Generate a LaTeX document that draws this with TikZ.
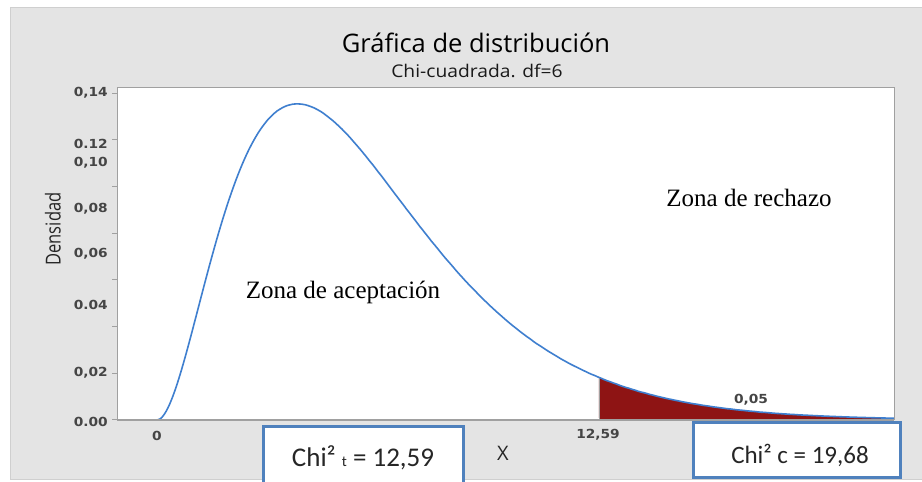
\documentclass[tikz,border=0pt]{standalone}
\usepackage{fontspec}
\usepackage{graphicx}
\setmainfont{Liberation Serif}
\newfontfamily\osans{Open Sans}
\newfontfamily\dvs{DejaVu Sans}
\newfontfamily\carl{Carlito}
\definecolor{bgGray}{HTML}{E4E4E4}
\definecolor{bgEdge}{HTML}{CFCFCF}
\definecolor{frameGray}{HTML}{A0A0A0}
\definecolor{labGray}{HTML}{454545}
\definecolor{curveBlue}{HTML}{3F7FCF}
\definecolor{rejRed}{HTML}{8E1414}
\definecolor{boxBlue}{HTML}{4F81BD}
\newcommand\stretchx[1]{\scalebox{1.1}[1]{#1}}
\begin{document}
\begin{tikzpicture}[x=1pt,y=1pt,
  ticklab/.style={anchor=east, inner sep=0pt, text=labGray, font=\dvs\bfseries\fontsize{12.5}{14}\selectfont},
  xlab/.style={inner sep=0pt, text=labGray, font=\dvs\bfseries\fontsize{12.5}{14}\selectfont},
  zona/.style={inner sep=0pt, text=black, font=\fontsize{25}{28}\selectfont},
  chibox/.style={draw=boxBlue, line width=3pt, fill=white},
  boxtext/.style={inner sep=0pt, text=black!85, font=\carl\fontsize{27}{30}\selectfont},
  curve/.style={draw=curveBlue, line width=1.6pt}
]
\useasboundingbox (0,0) rectangle (922,482);
% background
\fill[white] (0,0) rectangle (922,482);
\draw[fill=bgGray, draw=bgEdge, line width=0.8pt] (10,3) rectangle (924,475);
% plot area
\fill[white] (117,62) rectangle (894,394);
% rejection region
\fill[rejRed] (599,62) -- plot[domain=12.59:21, samples=80] ({157+35.1*\x},{62+145.98*(\x*exp(-\x/4))^2}) -- (894,62) -- cycle;
\draw[frameGray, line width=1pt] (599,62) -- (599,104.7);
% curve
\draw[curve] plot[domain=0:21, samples=240, smooth] ({157+35.1*\x},{62+145.98*(\x*exp(-\x/4))^2});
% frame
\draw[frameGray, line width=1pt] (117,62) rectangle (894,394);
\draw[frameGray, line width=1.4pt] (117,62) -- (894,62);
% y ticks
\foreach \k in {0,...,7} {\draw[frameGray, line width=1pt] (112,{62+46.7*\k}) -- (117,{62+46.7*\k});}
% y tick labels
\node[ticklab] (y14) at (108,389) {\stretchx{0,14}};
\node[ticklab] (y12) at (108,338) {\stretchx{0.12}};
\node[ticklab] (y10) at (108,319) {\stretchx{0,10}};
\node[ticklab] (y08) at (108,273) {\stretchx{0,08}};
\node[ticklab] (y06) at (108,228) {\stretchx{0,06}};
\node[ticklab] (y04) at (108,177) {\stretchx{0.04}};
\node[ticklab] (y02) at (108,109) {\stretchx{0,02}};
\node[ticklab] (y00) at (108,60) {\stretchx{0.00}};
% axis titles
\node[inner sep=0pt, text=black!85, font=\osans\fontsize{16.5}{18}\selectfont] (ylab) at (53,253) {\scalebox{1.25}[1]{\rotatebox{90}{Densidad}}};
\node[inner sep=0pt, text=black!85, font=\osans\fontsize{20}{22}\selectfont] (xaxlab) at (503,29) {X};
% title
\node[inner sep=0pt, text=black, font=\osans\fontsize{25.5}{28}\selectfont] (title) at (476,439) {Gráfica de distribución};
\node[inner sep=0pt, text=black!90, font=\osans\fontsize{17.5}{20}\selectfont] (subtitle) at (477,411) {\stretchx{Chi-cuadrada. df=6}};
% x labels
\node[xlab] (x0) at (157,46) {\stretchx{0}};
\node[xlab] (x1259) at (598,47) {\stretchx{12,59}};
\node[xlab] (p05) at (751,82) {\stretchx{0,05}};
% zones
\node[zona] (rech) at (749,284) {Zona de rechazo};
\node[zona] (acep) at (343,190) {Zona de aceptación};
% boxes
\draw[chibox] (263,-8) rectangle (463,55);
\node[boxtext] (chit) at (363,24) {Chi² {\fontsize{15}{16}\selectfont t} = 12,59};
\draw[chibox] (693,4) rectangle (900,59);
\node[boxtext, font=\carl\fontsize{25}{28}\selectfont] (chic) at (800,27) {Chi² c = 19,68};
\end{tikzpicture}
\end{document}
